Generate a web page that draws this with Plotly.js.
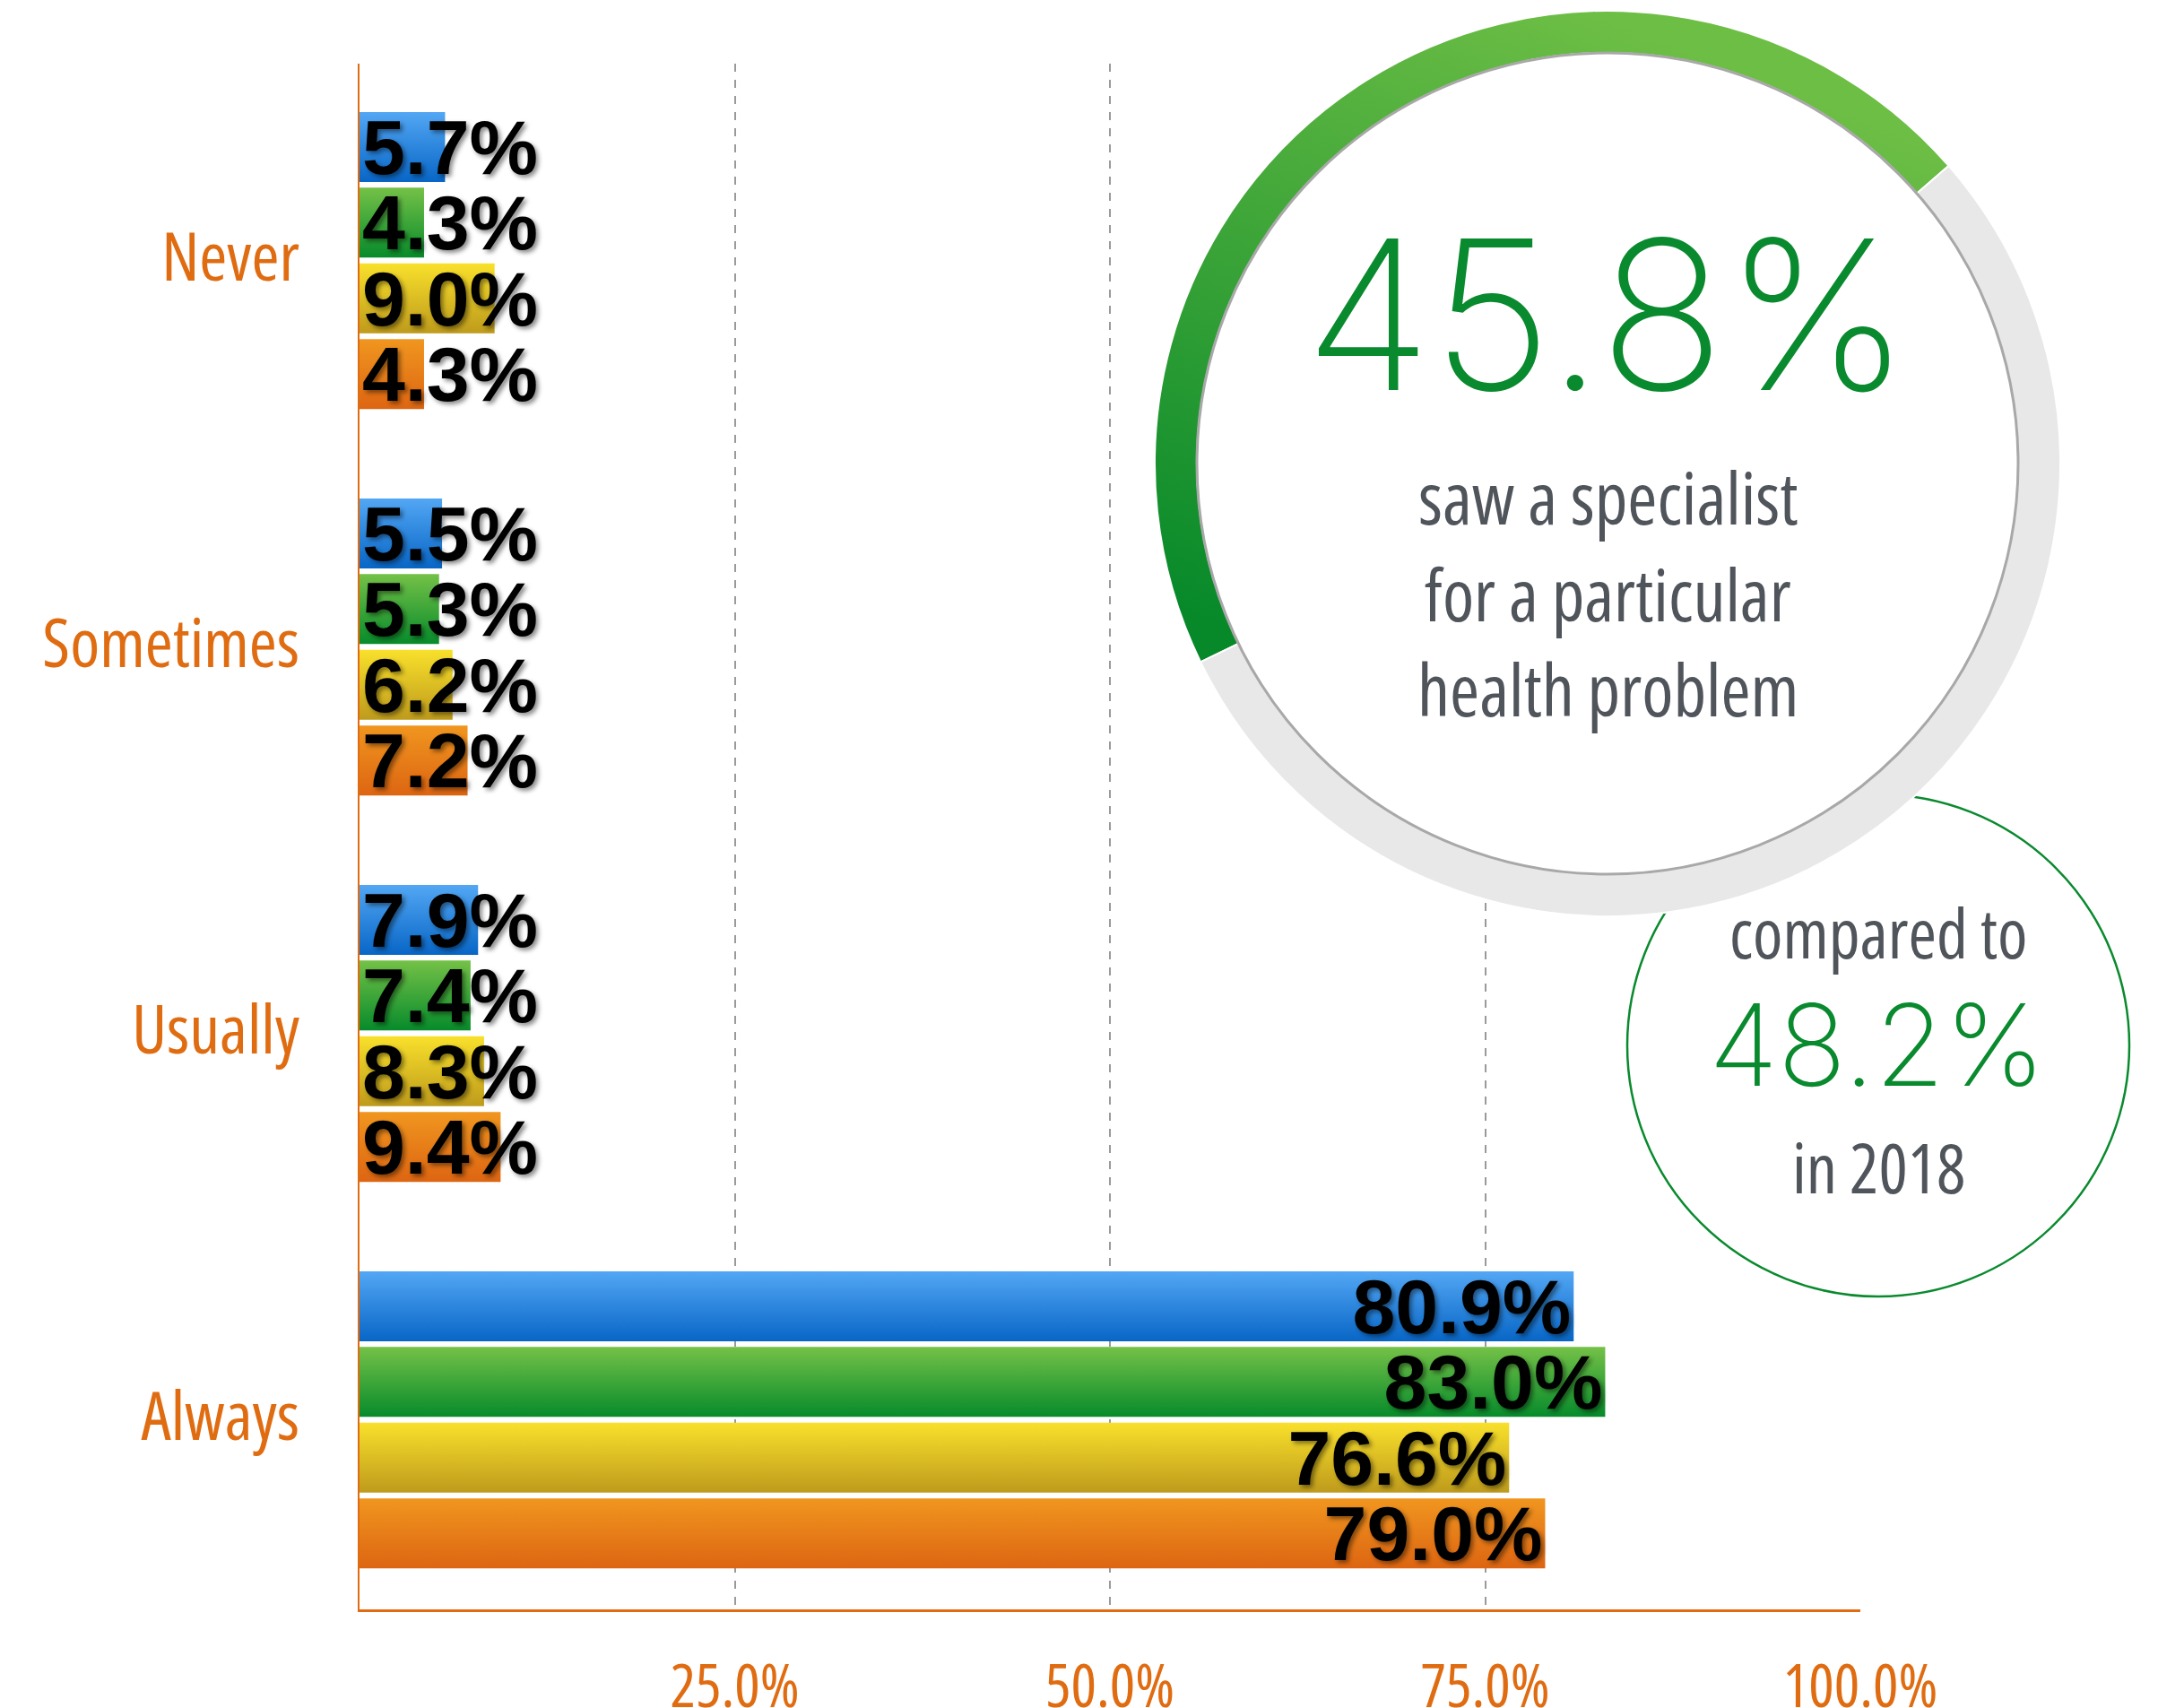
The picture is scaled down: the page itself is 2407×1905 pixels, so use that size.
<!DOCTYPE html>
<html><head><meta charset="utf-8">
<script src="https://cdn.plot.ly/plotly-3.0.1.min.js"></script>
<style>html,body{margin:0;padding:0;background:#fff}#chart{width:2407px;height:1905px} text{font-stretch:75%}</style>
</head><body><div id="chart"></div>
<script>
// ---------------- data ----------------
const categories = ['Never', 'Sometimes', 'Usually', 'Always'];
const seriesNames = ['Blue group', 'Green group', 'Yellow group', 'Orange group'];
const blueValues = [5.7, 5.5, 7.9, 80.9];
const greenValues = [4.3, 5.3, 7.4, 83.0];
const yellowValues = [9.0, 6.2, 8.3, 76.6];
const orangeValues = [4.3, 7.2, 9.4, 79.0];
const xTickValues = [25, 50, 75, 100];
const specialistShare = 45.8;      // ring value
const specialistShare2018 = 48.2;  // comparison value
const comparisonYear = '2018';

// ---------------- style ----------------
const ORANGE = '#E06C12';
const GRAY_TEXT = '#50555C';
const GREEN_TEXT = '#0A8A2E';
const NARROW = '"Open Sans", "Roboto Condensed", sans-serif';
const THIN = 'Inter, Roboto, sans-serif';
const LABEL_FONT = '"Liberation Sans", Arial, sans-serif';
const seriesValues = [blueValues, greenValues, yellowValues, orangeValues];
const gradients = [
  ['#53A7F4', '#0866C6'],
  ['#74C147', '#078B2B'],
  ['#F9E02B', '#BE9B1C'],
  ['#F0961F', '#DD6512']
];
const barWidth = 0.181;
const barStep = 0.196;
const firstOffset = -0.375;

// layout geometry (pixels)
const L = 401, R = 60, T = 10, B = 110, WIDTH = 2407, HEIGHT = 1905;
const PW = WIDTH - L - R, PH = HEIGHT - T - B;
const xp = X => (X - L) / PW;
const yp = Y => (HEIGHT - B - Y) / PH;

const ring = {cx: 1793, cy: 517, r: 505, inner: 458};
const small = {cx: 2095, cy: 1166, r: 280};

const fmt = v => v.toFixed(1) + '%';
const labelFont = {family: LABEL_FONT, size: 86, color: '#000', weight: 700,
                   shadow: '3px 3px 5px rgba(0,0,0,0.45)'};

const traces = [];
seriesValues.forEach((vals, i) => {
  traces.push({
    type: 'bar', orientation: 'h', name: seriesNames[i],
    y: categories, x: vals,
    width: barWidth, offset: firstOffset + i * barStep,
    marker: {color: gradients[i][1], line: {width: 0}},
    text: vals.map(v => v >= 30 ? fmt(v) : ''),
    textposition: 'inside', insidetextanchor: 'end', constraintext: 'none', textangle: 0,
    textfont: labelFont, hoverinfo: 'skip', showlegend: false
  });
});
seriesValues.forEach((vals, i) => {
  traces.push({
    type: 'bar', orientation: 'h', name: seriesNames[i] + ' label',
    y: categories, x: vals,
    width: barWidth, offset: firstOffset + i * barStep,
    marker: {color: 'rgba(0,0,0,0)', line: {width: 0}},
    text: vals.map(v => v < 30 ? fmt(v) : ''),
    textposition: 'inside', insidetextanchor: 'start', constraintext: 'none', textangle: 0,
    textfont: labelFont, hoverinfo: 'skip', showlegend: false
  });
});

traces.push({
  type: 'pie', values: [specialistShare, 100 - specialistShare],
  labels: ['saw a specialist', 'did not'],
  sort: false, direction: 'clockwise', rotation: -116,
  hole: ring.inner / ring.r,
  marker: {colors: ['#3DA53A', '#E8E8E8'], line: {color: '#ffffff', width: 2}},
  textinfo: 'none', hoverinfo: 'skip', showlegend: false,
  domain: {x: [xp(ring.cx - ring.r), xp(ring.cx + ring.r)], y: [yp(ring.cy + ring.r), yp(ring.cy - ring.r)]}
});

function ann(text, X, Y, size, color, family, weight) {
  return {xref: 'paper', yref: 'paper', x: xp(X), y: yp(Y), xanchor: 'center', yanchor: 'middle',
          text: text, showarrow: false, font: {family: family, size: size, color: color, weight: weight}};
}

const layout = {
  width: WIDTH, height: HEIGHT,
  margin: {l: L, r: R, t: T, b: B, pad: 0},
  paper_bgcolor: '#fff', plot_bgcolor: '#fff',
  barmode: 'overlay', showlegend: false, hovermode: false,
  xaxis: {
    domain: [0, xp(2075)], range: [0, 100], fixedrange: true,
    tickvals: xTickValues, ticktext: xTickValues.map(fmt),
    showgrid: true, gridcolor: '#9a9a9a', gridwidth: 2, griddash: '9px,9px',
    zeroline: false, showline: true, linecolor: ORANGE, linewidth: 3,
    ticks: '', ticklabelstandoff: 26,
    tickfont: {family: NARROW, size: 67, color: ORANGE}, automargin: false
  },
  yaxis: {
    domain: [0, yp(71)], type: 'category', categoryorder: 'array', categoryarray: categories,
    autorange: 'reversed', fixedrange: true,
    showgrid: false, zeroline: false, showline: true, linecolor: ORANGE, linewidth: 2,
    ticks: '', ticklabelstandoff: 50,
    tickfont: {family: NARROW, size: 75, color: ORANGE}, automargin: false
  },
  shapes: [
    {type: 'circle', xref: 'paper', yref: 'paper', layer: 'between',
     x0: xp(small.cx - small.r), x1: xp(small.cx + small.r), y0: yp(small.cy + small.r), y1: yp(small.cy - small.r),
     fillcolor: '#fff', line: {color: GREEN_TEXT, width: 2.5}},
    {type: 'circle', xref: 'paper', yref: 'paper', layer: 'above',
     x0: xp(ring.cx - ring.inner), x1: xp(ring.cx + ring.inner), y0: yp(ring.cy + ring.inner), y1: yp(ring.cy - ring.inner),
     fillcolor: '#fff', line: {color: '#A8A8A8', width: 3}}
  ],
  annotations: [
    ann(fmt(specialistShare), 1793, 350, 232, GREEN_TEXT, THIN, 200),
    ann('saw a specialist', 1793, 553, 80, GRAY_TEXT, NARROW, 400),
    ann('for a particular', 1793, 661, 80, GRAY_TEXT, NARROW, 400),
    ann('health problem', 1793, 767, 80, GRAY_TEXT, NARROW, 400),
    ann('compared to', 2095, 1039, 76, GRAY_TEXT, NARROW, 400),
    ann(fmt(specialistShare2018), 2093, 1165, 126, GREEN_TEXT, THIN, 200),
    ann('in ' + comparisonYear, 2095, 1301, 76, GRAY_TEXT, NARROW, 400)
  ]
};

function addGradients(gd) {
  const svg = gd.querySelector('svg.main-svg');
  const NS = 'http://www.w3.org/2000/svg';
  let defs = svg.querySelector('defs');
  if (!defs) { defs = document.createElementNS(NS, 'defs'); svg.insertBefore(defs, svg.firstChild); }
  function grad(id, c1, c2, x1, y1, x2, y2) {
    const g = document.createElementNS(NS, 'linearGradient');
    g.setAttribute('id', id);
    g.setAttribute('x1', x1); g.setAttribute('y1', y1); g.setAttribute('x2', x2); g.setAttribute('y2', y2);
    [[0, c1], [1, c2]].forEach(([o, c]) => {
      const s = document.createElementNS(NS, 'stop');
      s.setAttribute('offset', o); s.setAttribute('stop-color', c);
      g.appendChild(s);
    });
    defs.appendChild(g);
  }
  gradients.forEach((g, i) => grad('barGrad' + i, g[0], g[1], 0, 0, 0, 1));
  grad('ringGrad', '#6DBE45', '#07892A', 0.55, 0, 0.1, 0.95);
  const barTraces = gd.querySelectorAll('.barlayer .trace');
  barTraces.forEach((t, i) => {
    if (i < 4) t.querySelectorAll('.point path').forEach(p => { p.style.fill = 'url(#barGrad' + i + ')'; });
  });
  const slice = gd.querySelector('.pielayer .slice path.surface');
  if (slice) slice.style.fill = 'url(#ringGrad)';
}

Plotly.newPlot('chart', traces, layout, {staticPlot: true, displayModeBar: false}).then(addGradients);
</script>
</body></html>
